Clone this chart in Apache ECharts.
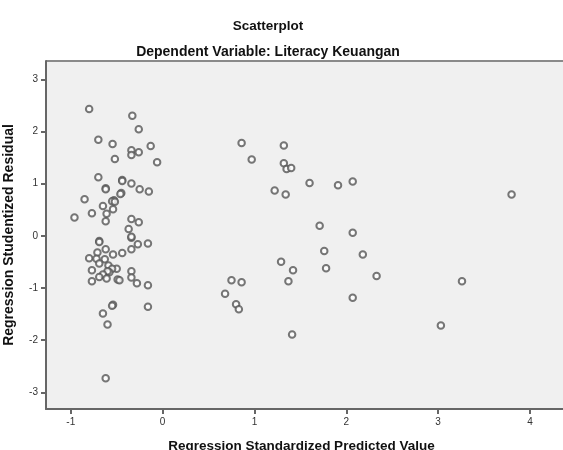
<!DOCTYPE html>
<html>
<head>
<meta charset="utf-8">
<script src="https://cdn.jsdelivr.net/npm/echarts@6/dist/echarts.min.js"></script>
<style>
  html, body { margin: 0; padding: 0; background: #fff; }
  #ct { width: 563px; height: 450px; }
</style>
</head>
<body>
<div id="ct"></div>
<script>
// Regression Standardized Predicted Value (x) / Studentized Residual (y)
const predicted = [
  -0.80, -0.33, -0.26, -0.70, -0.545, -0.34, -0.34, -0.26, -0.13, -0.52,
  -0.06, -0.70, -0.44, -0.44, -0.62, -0.62, -0.34, -0.25, -0.15, -0.45,
  -0.46, -0.85, -0.53, -0.55, -0.52, -0.65, -0.54, -0.77, -0.61, -0.96,
  -0.62, -0.34, -0.26, -0.37, -0.34, -0.34, -0.69, -0.69, -0.27, -0.16,
  -0.34, -0.44, -0.62, -0.71, -0.54, -0.80, -0.72, -0.63, -0.69, -0.59,
  -0.50, -0.55, -0.77, -0.58, -0.60, -0.65, -0.34, -0.34, -0.49, -0.47,
  -0.69, -0.61, -0.77, -0.28, -0.16, -0.54, -0.55, -0.16, -0.65, -0.60,
  -0.62,
  0.86, 1.32, 0.97, 1.32, 1.35, 1.40, 1.60, 1.91, 2.07, 1.22,
  1.34, 1.71, 2.07, 1.76, 2.18, 1.29, 1.42, 1.78, 1.37, 0.75,
  0.86, 0.68, 0.80, 0.83, 2.07, 1.41, 3.80, 2.33, 3.26, 3.03
];
const residual = [
  2.43, 2.30, 2.04, 1.84, 1.76, 1.64, 1.55, 1.60, 1.72, 1.47,
  1.41, 1.12, 1.07, 1.05, 0.91, 0.89, 1.00, 0.89, 0.85, 0.82,
  0.80, 0.70, 0.68, 0.66, 0.65, 0.57, 0.51, 0.43, 0.42, 0.35,
  0.28, 0.32, 0.26, 0.13, -0.04, -0.02, -0.10, -0.12, -0.16, -0.15,
  -0.26, -0.33, -0.26, -0.32, -0.36, -0.43, -0.44, -0.45, -0.53, -0.57,
  -0.63, -0.63, -0.66, -0.70, -0.68, -0.74, -0.68, -0.80, -0.84, -0.85,
  -0.79, -0.82, -0.87, -0.91, -0.95, -1.32, -1.34, -1.36, -1.49, -1.70,
  -2.73,
  1.78, 1.73, 1.46, 1.39, 1.28, 1.30, 1.01, 0.97, 1.04, 0.87,
  0.79, 0.19, 0.06, -0.29, -0.36, -0.50, -0.66, -0.62, -0.87, -0.85,
  -0.89, -1.11, -1.31, -1.41, -1.19, -1.89, 0.79, -0.77, -0.87, -1.72
];
const xTicks = [-1, 0, 1, 2, 3, 4];
const yTicks = [-3, -2, -1, 0, 1, 2, 3];

const chart = echarts.init(document.getElementById('ct'));
const points = predicted.map((x, i) => [x, residual[i]]);

const option = {
  animation: false,
  backgroundColor: '#fff',
  title: [
    {
      text: 'Scatterplot',
      left: 263, top: 14, textAlign: 'center',
      textStyle: { fontFamily: 'Liberation Sans', fontSize: 13.5, fontWeight: 'bold', color: '#111' }
    },
    {
      text: 'Dependent Variable: Literacy Keuangan',
      left: 263, top: 40, textAlign: 'center',
      textStyle: { fontFamily: 'Liberation Sans', fontSize: 14, fontWeight: 'bold', color: '#111' }
    }
  ],
  grid: {
    left: 46, right: 0, top: 61, bottom: 41,
    outerBoundsMode: 'none',
    containLabel: false,
    show: true,
    backgroundColor: '#f0f0f0',
    borderWidth: 0
  },
  graphic: [
    {
      type: 'line',
      shape: { x1: 46, y1: 61, x2: 563, y2: 61 },
      style: { stroke: '#8a8a8a', lineWidth: 2 }
    }
  ],
  xAxis: {
    type: 'value',
    min: -1.27, max: 4.36,
    splitLine: { show: false },
    axisLine: { show: true, onZero: false, lineStyle: { color: '#666', width: 2 } },
    axisTick: { show: true, length: 5, lineStyle: { color: '#666', width: 2 }, customValues: xTicks },
    axisLabel: {
      customValues: xTicks,
      fontFamily: 'Liberation Sans', fontSize: 10, color: '#333', margin: 8
    },
    name: 'Regression Standardized Predicted Value',
    nameLocation: 'middle',
    nameGap: 30,
    nameTextStyle: { fontFamily: 'Liberation Sans', fontSize: 13.5, fontWeight: 'bold', color: '#111', padding: [0, 6, 0, 0] }
  },
  yAxis: {
    type: 'value',
    min: -3.32, max: 3.35,
    splitLine: { show: false },
    axisLine: { show: true, onZero: false, lineStyle: { color: '#666', width: 2 } },
    axisTick: { show: true, length: 5, lineStyle: { color: '#666', width: 2 }, customValues: yTicks },
    axisLabel: {
      customValues: yTicks,
      fontFamily: 'Liberation Sans', fontSize: 10, color: '#333', margin: 8
    },
    name: 'Regression Studentized Residual',
    nameLocation: 'middle',
    nameRotate: 90,
    nameGap: 30,
    nameTextStyle: { fontFamily: 'Liberation Sans', fontSize: 14, fontWeight: 'bold', color: '#111' }
  },
  series: [
    {
      type: 'scatter',
      data: points,
      symbol: 'emptyCircle',
      symbolSize: 6.5,
      itemStyle: { color: '#555', borderWidth: 1.3, opacity: 0.8 }
    }
  ]
};

chart.setOption(option);
</script>
</body>
</html>
